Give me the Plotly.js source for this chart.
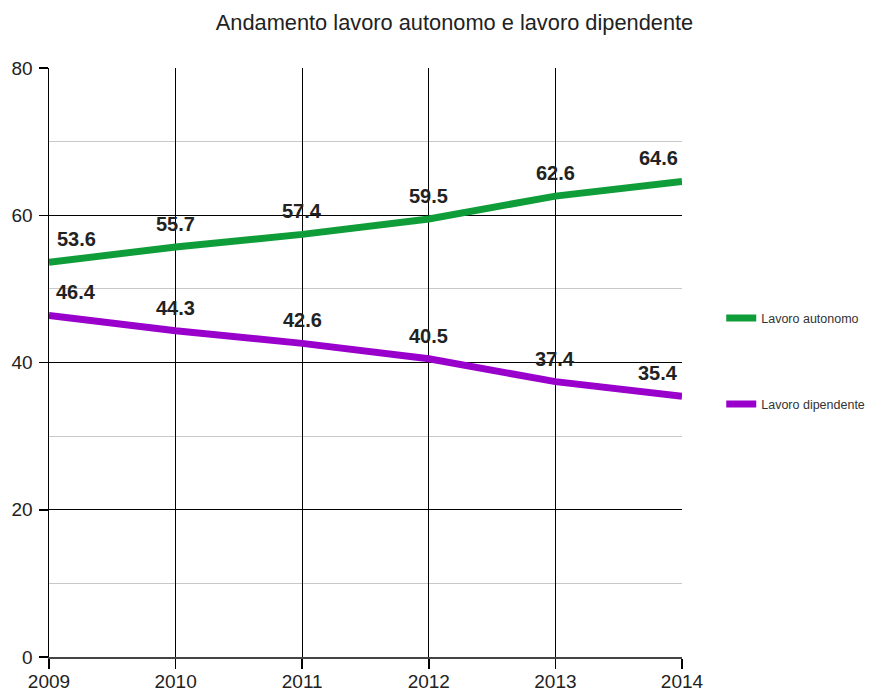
<!DOCTYPE html>
<html><head><meta charset="utf-8">
<script src="https://cdn.plot.ly/plotly-3.0.1.min.js"></script>
<style>html,body{margin:0;padding:0;background:#fff}#c{width:874px;height:693px}</style>
</head><body><div id="c"></div>
<script>
const years = [2009, 2010, 2011, 2012, 2013, 2014];
const autonomo = [53.6, 55.7, 57.4, 59.5, 62.6, 64.6];
const dipendente = [46.4, 44.3, 42.6, 40.5, 37.4, 35.4];
const seriesNames = ['Lavoro autonomo', 'Lavoro dipendente'];
const seriesColors = ['#0f9d3a', '#9a00cc'];
const titleText = 'Andamento lavoro autonomo e lavoro dipendente';

const FONT = 'Liberation Sans, Arial, sans-serif';
const traces = [
  {x: years, y: autonomo, name: seriesNames[0], mode: 'lines',
   line: {color: seriesColors[0], width: 7}, legend: 'legend'},
  {x: years, y: dipendente, name: seriesNames[1], mode: 'lines',
   line: {color: seriesColors[1], width: 7}, legend: 'legend2'}
];
const annotations = [];
[autonomo, dipendente].forEach(arr => {
  arr.forEach((v, i) => {
    let xshift = 0;
    if (i === 0) xshift = 27;
    if (i === years.length - 1) xshift = -24;
    annotations.push({x: years[i], y: v, text: '<b>' + v.toFixed(1) + '</b>',
      showarrow: false, yshift: 23, xshift: xshift,
      font: {family: FONT, size: 20, color: '#222'}});
  });
});
const layout = {
  width: 874, height: 693,
  margin: {l: 49, r: 192, t: 68, b: 36, autoexpand: false},
  paper_bgcolor: '#fff', plot_bgcolor: '#fff',
  font: {family: FONT, color: '#222'},
  title: {text: titleText, x: 0.52, xanchor: 'center', y: 0.968, yanchor: 'middle',
    font: {family: FONT, size: 21.8, color: '#222'}},
  xaxis: {range: [2009, 2014], tickvals: years, ticktext: years.map(String),
    showgrid: true, gridcolor: '#000', gridwidth: 1.3,
    showline: true, linecolor: '#444', linewidth: 1.5,
    ticks: 'outside', ticklen: 10, tickcolor: '#000', tickwidth: 1.5,
    tickfont: {family: FONT, size: 19, color: '#222'}, zeroline: false,
    ticklabelstandoff: -3, automargin: false},
  yaxis: {range: [0, 80], tickvals: [0, 20, 40, 60, 80],
    showgrid: true, gridcolor: '#000', gridwidth: 1.3,
    minor: {tickvals: [10, 30, 50, 70], showgrid: true, gridcolor: '#c8c8c8', gridwidth: 1.2},
    showline: true, linecolor: '#000', linewidth: 1.5,
    ticks: 'outside', ticklen: 9, tickcolor: '#000', tickwidth: 1.5,
    tickfont: {family: FONT, size: 19, color: '#222'}, zeroline: false,
    ticklabelstandoff: 2, automargin: false},
  showlegend: true,
  legend: {x: 1.062, xanchor: 'left', y: 0.575, yanchor: 'middle',
    font: {family: FONT, size: 12.5, color: '#333'}, itemwidth: 30, bgcolor: 'rgba(0,0,0,0)'},
  legend2: {x: 1.062, xanchor: 'left', y: 0.429, yanchor: 'middle',
    font: {family: FONT, size: 12.5, color: '#333'}, itemwidth: 30, bgcolor: 'rgba(0,0,0,0)'},
  annotations: annotations
};
Plotly.newPlot('c', traces, layout, {displayModeBar: false, staticPlot: true});
</script></body></html>
